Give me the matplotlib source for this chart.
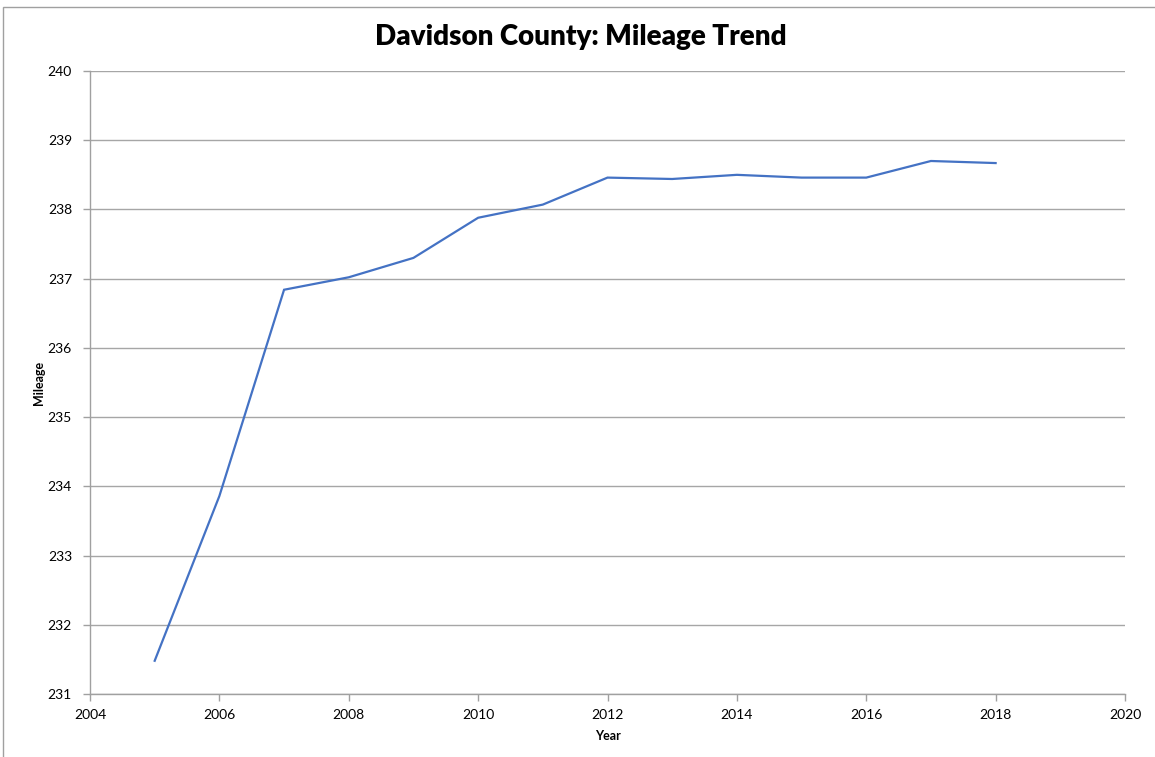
import numpy as np
import matplotlib.pyplot as plt
from matplotlib.patches import Rectangle

# Datos
years = np.array([2005, 2006, 2007, 2008, 2009, 2010, 2011, 2012, 2013, 2014, 2015, 2016, 2017, 2018])
mileage = np.array([231.48, 233.86, 236.84, 237.02, 237.30, 237.88, 238.07, 238.46, 238.44,
                    238.50, 238.46, 238.46, 238.70, 238.67])

x_ticks = np.arange(2004, 2021, 2)
y_ticks = np.arange(231, 241, 1)

plt.rcParams['font.family'] = ['Lato', 'DejaVu Sans']

W, H = 1155, 757
fig = plt.figure(figsize=(W / 100, H / 100), dpi=100)
ax = fig.add_axes([90 / W, 1 - 694 / H, (1125 - 90) / W, (694 - 71) / H])

# marco exterior del gráfico
fig.patches.append(Rectangle((3 / W, -0.01), 1.1, 1 - 7 / H + 0.01, transform=fig.transFigure,
                             fill=False, edgecolor='#a0a0a0', linewidth=1.0))

ax.plot(years, mileage, color='#4472c4', linewidth=1.6, solid_joinstyle='miter')

ax.set_xlim(2004, 2020)
ax.set_ylim(231, 240)
ax.set_xticks(x_ticks)
ax.set_yticks(y_ticks)
ax.yaxis.grid(True, color='#a6a6a6', linewidth=1.0)
ax.set_axisbelow(True)

for s in ['top', 'right']:
    ax.spines[s].set_visible(False)
for s in ['left', 'bottom']:
    ax.spines[s].set_color('#a0a0a0')
    ax.spines[s].set_linewidth(1.0)

ax.tick_params(axis='both', colors='#a0a0a0', length=5, width=1.0, labelcolor='black', labelsize=10)
ax.tick_params(axis='x', pad=6)
ax.tick_params(axis='y', pad=8)

# título centrado sobre la figura completa
fig.text(581 / W, 1 - 37 / H, 'Davidson County: Mileage Trend', fontsize=20, fontweight='heavy',
         ha='center', va='center')
ax.set_xlabel('Year', fontsize=9, fontweight='bold', labelpad=6)
ax.set_ylabel('Mileage', fontsize=9, fontweight='bold', labelpad=2)

fig.savefig('out.png', dpi=100)
